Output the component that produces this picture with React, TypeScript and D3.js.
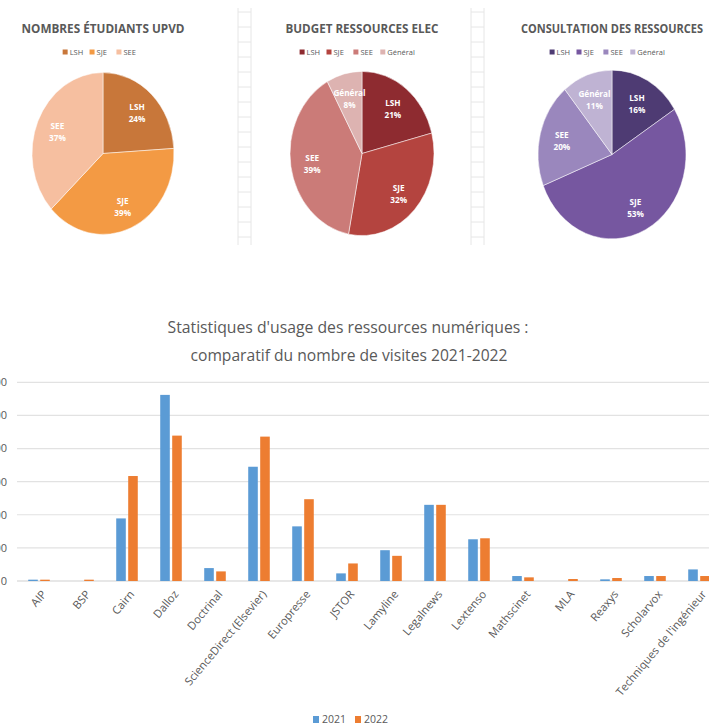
import React from 'react';
import * as d3 from 'd3';

const pieStudentsLabels = ['LSH', 'SJE', 'SEE'];
const pieStudentsValues = [24, 39, 37];
const pieStudentsColors = ['#C8773A', '#F39A44', '#F6BFA0'];

const pieBudgetLabels = ['LSH', 'SJE', 'SEE', 'Général'];
const pieBudgetValues = [21, 32, 39, 8];
const pieBudgetColors = ['#8E2B30', '#B4443F', '#CB7B78', '#DDB3B1'];

const pieConsultLabels = ['LSH', 'SJE', 'SEE', 'Général'];
const pieConsultValues = [16, 53, 20, 11];
const pieConsultColors = ['#4E3B73', '#7657A0', '#9A87BD', '#BFB3D3'];

// Bar chart data
const categories = [
  'AIP', 'BSP', 'Cairn', 'Dalloz', 'Doctrinal', 'ScienceDirect (Elsevier)', 'Europresse', 'JSTOR',
  'Lamyline', 'Legalnews', 'Lextenso', 'Mathscinet', 'MLA', 'Reaxys', 'Scholarvox', "Techniques de l'ingénieur",
];
const visits2021 = [400, 0, 18900, 56200, 3900, 34500, 16500, 2300, 9300, 23000, 12600, 1500, 0, 500, 1500, 3500];
const visits2022 = [400, 400, 31700, 43900, 2900, 43600, 24700, 5300, 7600, 23000, 12900, 1100, 600, 900, 1500, 1500];
const years = ['2021', '2022'];
const yearColors = ['#5B9BD5', '#ED7D31'];
const yTicks = [0, 10000, 20000, 30000, 40000, 50000, 60000];

const FONT = "'Open Sans', 'Noto Sans', sans-serif";
const GREY = '#595959';

interface PieProps {
  title: string;
  titleWidth: number;
  labels: string[];
  values: number[];
  colors: string[];
  cx: number;
  cy: number;
  r: number;
}

const Pie: React.FC<PieProps> = ({ title, titleWidth, labels, values, colors, cx, cy, r }) => {
  const pie = d3.pie<number>().sort(null)(values);
  const arc = d3.arc<d3.PieArcDatum<number>>().innerRadius(0).outerRadius(r);
  const labelArc = d3.arc<d3.PieArcDatum<number>>().innerRadius(r * 0.7).outerRadius(r * 0.7);
  const stretch = 1.14;

  // legend layout
  const widths = labels.map(l => l.length * 4.3 + 14);
  const total = d3.sum(widths);
  let lx = cx - total / 2;
  const legendItems = labels.map((l, i) => {
    const x = lx;
    lx += widths[i];
    return { l, x, color: colors[i] };
  });

  return (
    <g>
      <text x={cx} y={33} textAnchor="middle" fontFamily={FONT} fontWeight="bold" fontSize={13}
        fill={GREY} textLength={titleWidth} lengthAdjust="spacingAndGlyphs">{title}</text>
      {legendItems.map(d => (
        <g key={d.l}>
          <rect x={d.x} y={49.5} width={5} height={5} fill={d.color} />
          <text x={d.x + 7} y={55} fontFamily={FONT} fontSize={7.5} fill={GREY}>{d.l}</text>
        </g>
      ))}
      <g transform={`translate(${cx},${cy}) scale(1,${stretch})`}>
        {pie.map((d, i) => (
          <path key={i} d={arc(d) || ''} fill={colors[i]} stroke="#ffffff" strokeOpacity={0.6} strokeWidth={0.8} />
        ))}
        {pie.map((d, i) => {
          const [x, y] = labelArc.centroid(d);
          return (
            <text key={'t' + i} x={x} y={y} textAnchor="middle" fontFamily={FONT} fontWeight="bold"
              fontSize={8.2} fill="#ffffff">
              <tspan x={x} dy="-0.2em">{labels[i]}</tspan>
              <tspan x={x} dy="1.3em">{values[i]}%</tspan>
            </text>
          );
        })}
      </g>
    </g>
  );
};

const Separator: React.FC<{ x: number }> = ({ x }) => {
  const ticks = d3.range(12, 240, 15);
  return (
    <g stroke="#E6E6E6" strokeWidth={1}>
      <line x1={x} x2={x} y1={8} y2={245} />
      <line x1={x + 13} x2={x + 13} y1={8} y2={245} />
      {ticks.map(t => (
        <line key={t} x1={x} x2={x + 13} y1={t} y2={t} />
      ))}
    </g>
  );
};

const BarChart: React.FC = () => {
  const x0 = d3.scaleBand<string>().domain(categories).range([17, 721]);
  const bw = x0.bandwidth();
  const x1 = d3.scaleBand<string>().domain(years).range([bw * 0.255, bw * 0.745]).paddingInner(0.2);
  const y = d3.scaleLinear().domain([0, 60000]).range([581, 382.3]);
  const series = [visits2021, visits2022];

  return (
    <g>
      <text x={348} y={333} textAnchor="middle" fontFamily={FONT} fontSize={16.5} fill={GREY}
        textLength={361} lengthAdjust="spacingAndGlyphs">Statistiques d'usage des ressources numériques :</text>
      <text x={349} y={361} textAnchor="middle" fontFamily={FONT} fontSize={16.5} fill={GREY}
        textLength={317} lengthAdjust="spacingAndGlyphs">comparatif du nombre de visites 2021-2022</text>

      {yTicks.map(t => (
        <g key={t}>
          <line x1={17} x2={721} y1={y(t)} y2={y(t)} stroke={t === 0 ? '#D0D0D0' : '#E2E2E2'} strokeWidth={1.2} />
          <text x={7} y={y(t)} dy="0.35em" textAnchor="end" fontFamily={FONT} fontSize={11} fill={GREY}>{t}</text>
        </g>
      ))}

      {categories.map((c, ci) => (
        <g key={c} transform={`translate(${x0(c)},0)`}>
          {years.map((yr, si) => {
            const v = series[si][ci];
            return (
              <rect key={yr} x={x1(yr)} y={y(v)} width={x1.bandwidth()} height={y(0) - y(v)} fill={yearColors[si]} />
            );
          })}
        </g>
      ))}

      {categories.map(c => {
        const cx = (x0(c) || 0) + bw / 2;
        return (
          <text key={'l' + c} transform={`translate(${cx + 5},${592}) rotate(-50)`} textAnchor="end"
            fontFamily={FONT} fontSize={11.2} fill={GREY} dy="0.35em">{c}</text>
        );
      })}

      {years.map((yr, i) => (
        <g key={yr} transform={`translate(${313 + i * 42},0)`}>
          <rect x={0} y={716} width={6} height={7} fill={yearColors[i]} />
          <text x={9} y={723} fontFamily={FONT} fontSize={10.5} fill={GREY}>{yr}</text>
        </g>
      ))}
    </g>
  );
};

export default function App() {
  return (
    <svg width={709} height={728} style={{ position: 'absolute', left: 0, top: 0, background: '#ffffff' }}>
      <rect width={709} height={728} fill="#ffffff" />
      <Separator x={238} />
      <Separator x={471} />
      <Pie title="NOMBRES ÉTUDIANTS UPVD" titleWidth={163} labels={pieStudentsLabels} values={pieStudentsValues}
        colors={pieStudentsColors} cx={103} cy={153.5} r={71} />
      <Pie title="BUDGET RESSOURCES ELEC" titleWidth={153} labels={pieBudgetLabels} values={pieBudgetValues}
        colors={pieBudgetColors} cx={362} cy={153.5} r={72} />
      <Pie title="CONSULTATION DES RESSOURCES" titleWidth={182} labels={pieConsultLabels} values={pieConsultValues}
        colors={pieConsultColors} cx={612} cy={154.5} r={74} />
      <BarChart />
    </svg>
  );
}
